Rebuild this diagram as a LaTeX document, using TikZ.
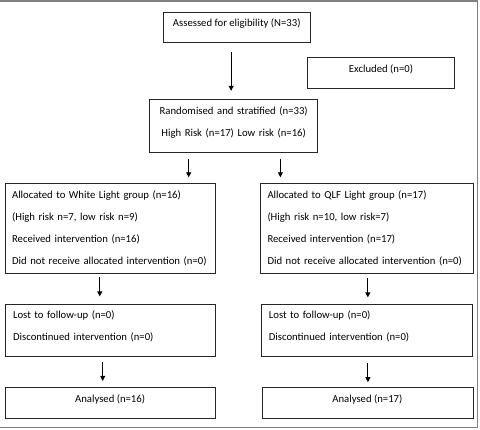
\documentclass[tikz,border=0pt]{standalone}
\usepackage{fontspec}
\setmainfont{Carlito}
\usepackage{tikz}
\usetikzlibrary{arrows.meta, positioning}
\tikzstyle{box} = [rectangle, 
draw=black!85, 
line width=0.8pt, 
inner xsep=8pt, 
inner ysep=0pt, 
text height=14.6pt, 
font=\fontsize{10.7}{22.2}\selectfont]
\tikzstyle{boxl} = [box, align=left]
\tikzstyle{boxc} = [box, align=center]
\tikzstyle{arrow} = [line width=0.9pt, -{Triangle[length=5pt, width=5pt]}]
\tikzstyle{frame} = [draw=black!50, line width=1.2pt]

\begin{document}
\begin{tikzpicture}[x=1pt, y=-1pt, node distance=30pt]
        \useasboundingbox (0,0) rectangle (480,430);

        % --- Nodos ---
        \node (assess) [boxc, anchor=north west, minimum width=147.3pt, text depth=15.7pt] at (162.7,11.7) {Assessed for eligibility (N=33)};
        \node (excl) [boxc, below right=14.6pt and -3.7pt of assess.south east, anchor=north west, minimum width=147pt, text depth=15.8pt] {Excluded (n=0)};
        \node (rand) [boxc, below=56.7pt of assess, xshift=-3.05pt, inner xsep=4pt, text width=160pt, text depth=38.4pt] {Randomised and stratified (n=33)\\ High Risk (n=17) Low risk (n=16)};
        \node (white) [boxl, below left=30pt and 144.6pt of rand.south west, anchor=north west, inner xsep=7pt, text width=196.3pt, text depth=74.7pt] {Allocated to White Light group (n=16)\\ (High risk n=7, low risk n=9)\\ Received intervention (n=16)\\ Did not receive allocated intervention (n=0)};
        \node (qlf) [boxl, right=44.3pt of white.north east, anchor=north west, inner xsep=7pt, text width=198.7pt, text depth=75.4pt] {Allocated to QLF Light group (n=17)\\ (High risk n=10, low risk=7)\\ Received intervention (n=17)\\ Did not receive allocated intervention (n=0)};
        \node (lostw) [boxl, below=30.4pt of white.south west, anchor=north west, text width=194.7pt, text depth=37.7pt] {Lost to follow-up (n=0)\\ Discontinued intervention (n=0)};
        \node (lostq) [boxl, right=44.3pt of lostw.north east, anchor=north west, text width=195pt, text depth=37.7pt] {Lost to follow-up (n=0)\\ Discontinued intervention (n=0)};
        \node (anw) [boxc, below=30.3pt of lostw.south west, anchor=north west, minimum width=210pt, text depth=16.1pt] {Analysed (n=16)};
        \node (anq) [boxc, below=30.3pt of lostq.south west, anchor=north west, xshift=1pt, minimum width=211pt, text depth=16.1pt] {Analysed (n=17)};

        % --- Conexiones ---
        \draw [arrow, shorten <=9.7pt, shorten >=8.7pt] ([xshift=-5.6pt]assess.south) -- ([xshift=-5.6pt]assess.south |- rand.north);
        \draw [arrow, shorten <=5.6pt, shorten >=6pt] ([xshift=-45pt]rand.south) -- ([xshift=-45pt]rand.south |- white.north);
        \draw [arrow, shorten <=5.6pt, shorten >=6pt] ([xshift=46.7pt]rand.south) -- ([xshift=46.7pt]rand.south |- qlf.north);
        \draw [arrow, shorten <=4pt, shorten >=7.4pt] ([xshift=-10.5pt]white.south) -- ([xshift=-10.5pt]white.south |- lostw.north);
        \draw [arrow, shorten <=4pt, shorten >=6.4pt] ([xshift=1pt]qlf.south) -- ([xshift=1pt]qlf.south |- lostq.north);
        \draw [arrow, shorten <=5.3pt, shorten >=6.3pt] ([xshift=-7.75pt]lostw.south) -- ([xshift=-7.75pt]lostw.south |- anw.north);
        \draw [arrow, shorten <=6.3pt, shorten >=5pt] ([xshift=1.5pt]lostq.south) -- ([xshift=1.5pt]lostq.south |- anq.north);

        % --- Marco ---
        \draw [frame] (-2,1) -- (477.5,1) -- (477.5,427.5) -- (-2,427.5);

\end{tikzpicture}
\end{document}
